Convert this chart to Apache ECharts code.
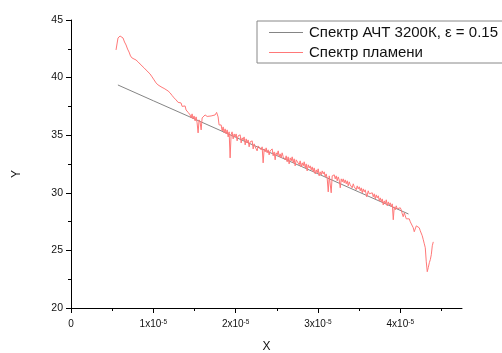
<!DOCTYPE html>
<html>
<head>
<meta charset="utf-8">
<script src="https://cdn.jsdelivr.net/npm/echarts@6/dist/echarts.min.js"></script>
<style>
  html, body { margin: 0; padding: 0; background: #fff; }
  #chart { width: 502px; height: 353px; }
</style>
</head>
<body>
<div id="chart"></div>
<script>
// x values are in units of 1e-5
const xTicks = [0, 1, 2, 3, 4]
const xMinorTicks = [0.5, 1.5, 2.5, 3.5, 4.5]

const bodyName = "Спектр АЧТ 3200К, ε = 0.15"
const flameName = "Спектр пламени"

const bodyX = [0.57, 1.0, 1.5, 2.0, 2.5, 3.0, 3.5, 4.1]
const bodyY = [39.36, 37.99, 36.41, 34.82, 33.23, 31.65, 30.06, 28.16]

const flamePoints = [
  [0.547, 42.40], [0.559, 42.92], [0.571, 43.44], [0.584, 43.61], [0.596, 43.61],
  [0.614, 43.57], [0.632, 43.44], [0.650, 43.09], [0.669, 42.83], [0.687, 42.48],
  [0.705, 42.22], [0.723, 41.88], [0.742, 41.70], [0.766, 41.62], [0.790, 41.53],
  [0.815, 41.36], [0.839, 41.18], [0.863, 41.01], [0.888, 40.84], [0.912, 40.66],
  [0.936, 40.53], [0.960, 40.32], [0.985, 40.06], [1.009, 39.80], [1.033, 39.54],
  [1.058, 39.36], [1.082, 39.23], [1.106, 39.15], [1.131, 39.06], [1.155, 38.93],
  [1.179, 38.84], [1.204, 38.67], [1.228, 38.45], [1.240, 38.58], [1.252, 38.24],
  [1.277, 38.06], [1.289, 38.15], [1.301, 37.85], [1.325, 37.72], [1.337, 37.80],
  [1.350, 37.50], [1.374, 37.41], [1.386, 37.54], [1.398, 37.19], [1.410, 37.28],
  [1.423, 36.98], [1.435, 37.11], [1.447, 36.76],
  [1.459, 36.50], [1.471, 36.85], [1.483, 36.41], [1.495, 36.67], [1.508, 36.24],
  [1.520, 36.59], [1.532, 36.07], [1.544, 35.20], [1.556, 36.33], [1.568, 36.15],
  [1.581, 35.46], [1.593, 36.50], [1.605, 36.67], [1.617, 36.59], [1.629, 36.76],
  [1.654, 36.63], [1.678, 36.76], [1.702, 36.67], [1.726, 36.80], [1.751, 36.76],
  [1.769, 36.98], [1.787, 36.59], [1.799, 35.89], [1.812, 35.72], [1.824, 35.89],
  [1.836, 35.37], [1.848, 35.72], [1.860, 35.20], [1.872, 35.55], [1.885, 35.11],
  [1.897, 35.46], [1.909, 34.85], [1.921, 35.29], [1.933, 33.03], [1.945, 35.03],
  [1.957, 35.29], [1.970, 34.68], [1.982, 35.11], [1.994, 34.85], [2.006, 35.11],
  [2.018, 34.51], [2.030, 34.94], [2.043, 34.77], [2.055, 35.03], [2.067, 34.33],
  [2.079, 34.77], [2.091, 34.59], [2.103, 34.85], [2.116, 34.16], [2.128, 34.68],
  [2.140, 34.33], [2.152, 34.59], [2.164, 33.99], [2.176, 34.42], [2.188, 34.25],
  [2.201, 34.51], [2.213, 33.81], [2.225, 34.25], [2.237, 33.99], [2.249, 34.16],
  [2.261, 33.64], [2.274, 34.07], [2.286, 33.90], [2.298, 34.07],
  [2.310, 33.73], [2.322, 33.99], [2.334, 32.60], [2.347, 33.81], [2.359, 33.55],
  [2.371, 33.90], [2.383, 33.47], [2.395, 33.73], [2.407, 33.29], [2.419, 33.64],
  [2.432, 33.47], [2.444, 33.81], [2.456, 33.21], [2.468, 33.55], [2.480, 32.86],
  [2.492, 33.47], [2.505, 33.29], [2.517, 33.64], [2.529, 33.12], [2.541, 33.38],
  [2.553, 33.03], [2.565, 33.47], [2.578, 33.12], [2.590, 33.29], [2.602, 32.86],
  [2.614, 33.21], [2.626, 32.69], [2.638, 33.12], [2.650, 32.51], [2.663, 33.03],
  [2.675, 32.77], [2.687, 33.12], [2.699, 32.60], [2.711, 32.95], [2.723, 32.34],
  [2.736, 32.86], [2.748, 32.69], [2.760, 33.03], [2.772, 32.43], [2.784, 32.77],
  [2.796, 32.25], [2.809, 32.60], [2.821, 32.34], [2.833, 32.69], [2.845, 32.16],
  [2.857, 32.51], [2.869, 31.90], [2.882, 32.43], [2.894, 32.16], [2.906, 32.34],
  [2.918, 31.99], [2.930, 32.25], [2.942, 31.82], [2.954, 32.16], [2.967, 31.64],
  [2.979, 31.99], [2.991, 31.73], [3.003, 32.08], [3.015, 31.47], [3.027, 31.82],
  [3.040, 31.56], [3.052, 31.90], [3.064, 31.64], [3.076, 31.82], [3.088, 31.38],
  [3.100, 31.64], [3.113, 31.21], [3.125, 30.08], [3.137, 31.47], [3.149, 31.38],
  [3.161, 30.00], [3.173, 31.47], [3.185, 31.30], [3.198, 31.56], [3.210, 31.21],
  [3.222, 31.47], [3.234, 31.04], [3.246, 31.38], [3.258, 31.12], [3.271, 30.43],
  [3.283, 31.21], [3.295, 30.95], [3.307, 31.21], [3.319, 30.86], [3.331, 31.12],
  [3.344, 30.78], [3.356, 31.04], [3.368, 30.60], [3.380, 30.95], [3.392, 30.69],
  [3.404, 30.86], [3.416, 30.43], [3.429, 30.78], [3.441, 30.52], [3.453, 30.69],
  [3.465, 30.26], [3.477, 30.60], [3.489, 30.34], [3.502, 30.52], [3.514, 30.17],
  [3.526, 30.43], [3.538, 30.00], [3.550, 30.34], [3.562, 30.08], [3.574, 30.26],
  [3.593, 29.65], [3.611, 30.17], [3.623, 29.91], [3.635, 30.08], [3.647, 29.74],
  [3.660, 30.00], [3.672, 29.65], [3.684, 29.91], [3.696, 29.47], [3.708, 29.82],
  [3.720, 29.56], [3.733, 29.74], [3.745, 29.30], [3.757, 29.56], [3.769, 29.21],
  [3.781, 29.47], [3.793, 28.95], [3.805, 29.30], [3.818, 29.04], [3.830, 29.39],
  [3.842, 28.87], [3.854, 29.21], [3.866, 28.95], [3.878, 29.13], [3.891, 28.78],
  [3.903, 29.04], [3.915, 27.66], [3.927, 28.78], [3.939, 28.52], [3.951, 28.87],
  [3.964, 28.61], [3.976, 28.78], [3.988, 28.44], [4.000, 28.70],
  [4.012, 28.52], [4.024, 28.18], [4.036, 27.92], [4.049, 28.26], [4.061, 28.00],
  [4.073, 27.74], [4.085, 27.83], [4.097, 27.66], [4.109, 27.74], [4.122, 27.48],
  [4.134, 27.57], [4.146, 27.31], [4.158, 26.96], [4.170, 26.62], [4.182, 26.70],
  [4.195, 27.13], [4.207, 27.22], [4.219, 27.05], [4.231, 26.96], [4.243, 26.70],
  [4.255, 26.53], [4.267, 26.27], [4.280, 25.92], [4.292, 25.57], [4.304, 25.23],
  [4.316, 24.01], [4.328, 23.15], [4.334, 23.06], [4.340, 23.50], [4.353, 23.93],
  [4.365, 24.19], [4.377, 24.62], [4.389, 25.40], [4.401, 25.74]
]

const font = "Liberation Sans, Arial, sans-serif"
const ink = "#111"
const grey = "#858585"
const red = "#ff7878"

const chart = echarts.init(document.getElementById("chart"))

const xLabel = v => (v === 0 ? "0" : "{m|" + v + "x10}{s|-5}")

// legend swatches: the built-in ones came out the same colour, so draw them
const swatch = (y, color) => ({
  type: "line",
  z: 100,
  shape: { x1: 269, y1: y, x2: 303, y2: y },
  style: { stroke: color, lineWidth: 1 }
})

chart.setOption({
  animation: false,
  backgroundColor: "#fff",
  textStyle: { fontFamily: font },
  grid: { left: 71, right: 40, top: 20, bottom: 45, outerBoundsMode: "none" },
  legend: {
    orient: "vertical",
    left: 257,
    top: 21,
    padding: [4, 12, 3, 12],
    itemWidth: 34,
    itemHeight: 14,
    itemGap: 5,
    borderColor: "#888",
    borderWidth: 1,
    backgroundColor: "#fff",
    itemStyle: { opacity: 0 },
    lineStyle: { opacity: 0 },
    textStyle: { fontFamily: font, fontSize: 15, lineHeight: 15, color: ink },
    data: [bodyName, flameName]
  },
  graphic: [swatch(32.5, grey), swatch(52.5, red)],
  xAxis: [
    {
      type: "value",
      min: 0,
      max: 4.75,
      interval: 1,
      name: "X",
      nameLocation: "middle",
      nameGap: 33,
      nameTextStyle: { fontFamily: font, fontSize: 12, color: ink },
      splitLine: { show: false },
      axisLine: { onZero: false, lineStyle: { color: "#000", width: 1 } },
      axisTick: { customValues: xTicks, length: 5, lineStyle: { color: "#000" } },
      axisLabel: {
        customValues: xTicks,
        margin: 11,
        color: ink,
        fontSize: 10,
        formatter: xLabel,
        rich: {
          m: { fontFamily: font, fontSize: 10, color: ink },
          s: { fontFamily: font, fontSize: 6.5, color: ink, verticalAlign: "top", padding: [0, 0, 4, 0] }
        }
      }
    },
    {
      type: "value",
      min: 0,
      max: 4.75,
      position: "bottom",
      axisLine: { show: false },
      splitLine: { show: false },
      axisLabel: { show: false },
      axisTick: { customValues: xMinorTicks, length: 3, lineStyle: { color: "#000" } }
    }
  ],
  yAxis: {
    type: "value",
    min: 20,
    max: 45,
    interval: 5,
    name: "Y",
    nameLocation: "middle",
    nameGap: 48,
    nameTextStyle: { fontFamily: font, fontSize: 12, color: ink, padding: [0, 20, 0, 0] },
    splitLine: { show: false },
    axisLine: { show: true, onZero: false, lineStyle: { color: "#000", width: 1 } },
    axisTick: { length: 5, lineStyle: { color: "#000" } },
    minorTick: { show: true, splitNumber: 2, length: 3, lineStyle: { color: "#000" } },
    axisLabel: { color: ink, fontSize: 10.5, margin: 8 }
  },
  series: [
    {
      name: bodyName,
      type: "line",
      symbol: "none",
      color: grey,
      lineStyle: { color: grey, width: 1 },
      data: bodyX.map((x, i) => [x, bodyY[i]])
    },
    {
      name: flameName,
      type: "line",
      symbol: "none",
      color: red,
      lineStyle: { color: red, width: 1 },
      data: flamePoints
    }
  ]
})
</script>
</body>
</html>
